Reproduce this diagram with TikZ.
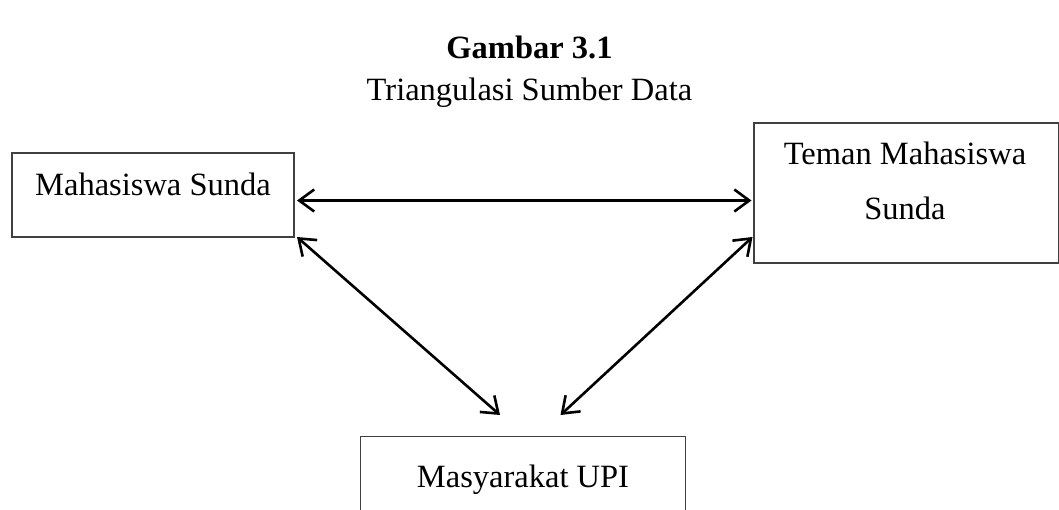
\documentclass[tikz,border=0pt]{standalone}
\usepackage{fontspec}
\setmainfont{Liberation Serif}
\usetikzlibrary{arrows.meta}
\begin{document}
\begin{tikzpicture}[x=1pt,y=-1pt,
  box/.style={draw=black!75, line width=1.2pt, inner sep=0pt},
  lbl/.style={anchor=base, inner sep=0pt, font=\fontsize{32.5}{38}\selectfont},
  link/.style={line width=2.6pt, {Straight Barb[length=15pt,width=22pt]}-{Straight Barb[length=15pt,width=22pt]}}]
\useasboundingbox (0,0) rectangle (1059,509);
\node[lbl, font=\fontsize{32.5}{38}\bfseries] (title) at (529.5,58) {Gambar 3.1};
\node[lbl] (sub) at (529.5,100) {Triangulasi Sumber Data};
% boxes
\node[box, minimum width=282pt, minimum height=84pt] (ms) at (153,195) {};
\node[lbl] (mst) at (153,195) {Mahasiswa Sunda};
\node[box, minimum width=305pt, minimum height=140pt] (tm) at (906.5,193) {};
\node[lbl] (tmt1) at (905,164) {Teman Mahasiswa};
\node[lbl] (tmt2) at (905,219) {Sunda};
\node[box, minimum width=325pt, minimum height=100pt] (mu) at (523,486.5) {};
\node[lbl] (mut) at (523,487) {Masyarakat UPI};
% anchors for arrow ends
\coordinate (a1) at (297,200.5);
\coordinate (a2) at (751.5,200.5);
\coordinate (b1) at (297,237);
\coordinate (b2) at (500,415);
\coordinate (c1) at (752.5,237);
\coordinate (c2) at (560.5,415);
\draw[link] (a1) -- (a2);
\draw[link] (b1) -- (b2);
\draw[link] (c1) -- (c2);
\end{tikzpicture}
\end{document}
